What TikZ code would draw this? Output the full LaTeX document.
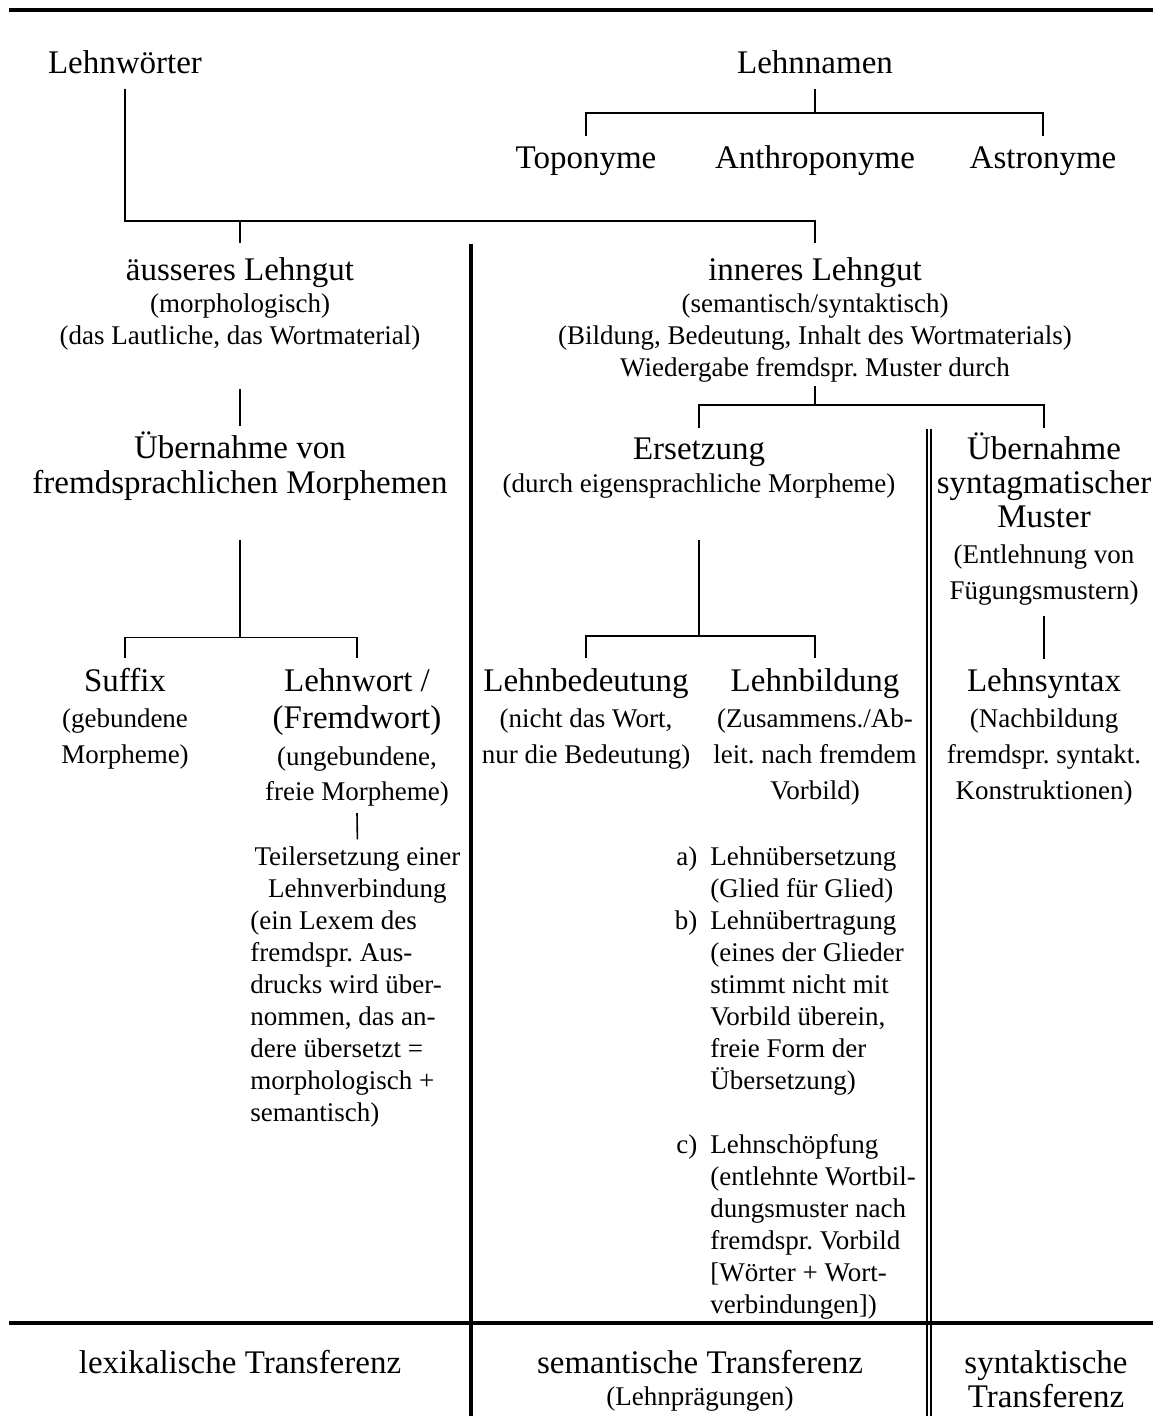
\documentclass[tikz,border=0pt]{standalone}
\usepackage{fontspec}
\setmainfont{Liberation Serif}
\frenchspacing
\newcommand\bigfont{\fontsize{16.5}{17}\selectfont}
\newcommand\smallfont{\fontsize{13.5}{16}\selectfont}
\newcommand\bigtxt[1]{{\bigfont#1}}

\begin{document}
\begin{tikzpicture}[x=0.5pt,y=-0.5pt,
    txt/.style={font=\smallfont, inner sep=0pt, anchor=base, align=center},
    headtxt/.style={txt, font=\bigfont},
    branch/.style={line width=0.8pt},
    divider/.style={line width=1.8pt},
    doubledivider/.style={line width=0.7pt, double, double distance=1.3pt}]
  \useasboundingbox (0,0) rectangle (1153,1416);

  \draw[divider] (9,10) -- (1153,10);
  \draw[divider] (471,244) -- (471,1416);
  \draw[doubledivider] (929,429) -- (929,1416);
  \draw[divider] (9,1323) -- (1153,1323);

  \node[headtxt] (lwoert) at (125,74) {Lehnwörter};
  \node[headtxt] (lnamen) at (815,74) {Lehnnamen};
  \node[headtxt] (topo) at (586,169) {Toponyme};
  \node[headtxt] (anthro) at (815,169) {Anthroponyme};
  \node[headtxt] (astro) at (1043,169) {Astronyme};

  \node[txt] (aeuss) at (240,345) {\bigtxt{äusseres Lehngut}\\(morphologisch)\\(das Lautliche, das Wortmaterial)};
  \node[txt] (inner) at (815,377) {\bigtxt{inneres Lehngut}\\(semantisch/syntaktisch)\\(Bildung, Bedeutung, Inhalt des Wortmaterials)\\Wiedergabe fremdspr. Muster durch};

  \node[txt] (uebvon) at (240,494) {\bigtxt{Übernahme von}\\[1.5pt]\bigtxt{fremdsprachlichen Morphemen}};
  \node[txt] (ersetz) at (699,493) {\bigtxt{Ersetzung}\\[1pt](durch eigensprachliche Morpheme)};
  \node[txt] (uebsyn) at (1044,599) {\bigtxt{Übernahme}\\[1pt]\bigtxt{syntagmatischer}\\[1pt]\bigtxt{Muster}\\[2pt](Entlehnung von\\[2pt]Fügungsmustern)};

  \node[txt] (suffix) at (125,763) {\bigtxt{Suffix}\\[2pt](gebundene\\[2pt]Morpheme)};
  \node[txt] (lwort) at (357,800) {\bigtxt{Lehnwort /}\\[2.5pt]\bigtxt{(Fremdwort)}\\[2.5pt](ungebundene,\\[1.5pt]freie Morpheme)};
  \node[txt] (lbed) at (586,763) {\bigtxt{Lehnbedeutung}\\[2pt](nicht das Wort,\\[2pt]nur die Bedeutung)};
  \node[txt] (lbild) at (815,799) {\bigtxt{Lehnbildung}\\[2pt](Zusammens./Ab-\\[2pt]leit. nach fremdem\\[2pt]Vorbild)};
  \node[txt] (lsyn) at (1044,799) {\bigtxt{Lehnsyntax}\\[2pt](Nachbildung\\[2pt]fremdspr. syntakt.\\[2pt]Konstruktionen)};

  \node[txt, align=left, anchor=base west] (teil) at (250,1121) {\makebox[107pt]{Teilersetzung einer}\\\makebox[107pt]{Lehnverbindung}\\(ein Lexem des\\fremdspr. Aus-\\drucks wird über-\\nommen, das an-\\dere übersetzt =\\morphologisch +\\semantisch)};
  \node[txt, align=left, anchor=base west] (lbliste) at (710,1313) {\llap{a)\hspace{6.5pt}}Lehnübersetzung\\(Glied für Glied)\\\llap{b)\hspace{6.5pt}}Lehnübertragung\\(eines der Glieder\\stimmt nicht mit\\Vorbild überein,\\freie Form der\\Übersetzung)\\[16pt]\llap{c)\hspace{6.5pt}}Lehnschöpfung\\(entlehnte Wortbil-\\dungsmuster nach\\fremdspr. Vorbild\\{[}Wörter + Wort-\\verbindungen{]})};

  \node[headtxt] (lexik) at (240,1373) {lexikalische Transferenz};
  \node[txt] (semant) at (700,1405) {\bigtxt{semantische Transferenz}\\(Lehnprägungen)};
  \node[txt] (syntr) at (1046,1407) {\bigtxt{syntaktische}\\[1pt]\bigtxt{Transferenz}};

  \draw[branch] (lnamen.south) ++(0,14) -- ++(0,24) coordinate (lnbar);
  \draw[branch] (topo |- lnbar) ++(0,23) -- (topo |- lnbar) -- (astro |- lnbar) -- ++(0,23);
  \draw[branch] (lwoert.south) ++(0,14) -- ++(0,132) coordinate (lwbar) -- (inner |- lwbar) -- ++(0,22);
  \draw[branch] (aeuss |- lwbar) -- ++(0,22);

  \draw[branch] ([yshift=-19pt]aeuss.south) -- ([yshift=2.7pt]uebvon.north);
  \draw[branch] ([yshift=-1.5pt]inner.south) -- ++(0,19) coordinate (inbar);
  \draw[branch] (ersetz |- inbar) ++(0,23) -- (ersetz |- inbar) -- (uebsyn |- inbar) -- ++(0,23);

  \draw[branch] ([yshift=-19.5pt]uebvon.south) -- ++(0,97) coordinate (uvbar);
  \draw[branch] (suffix |- uvbar) ++(0,21) -- (suffix |- uvbar) -- (lwort |- uvbar) -- ++(0,21);
  \draw[branch] ([yshift=-20.5pt]ersetz.south) -- ++(0,96) coordinate (erbar);
  \draw[branch] (lbed |- erbar) ++(0,22) -- (lbed |- erbar) -- (lbild |- erbar) -- ++(0,22);
  \draw[branch] ([yshift=-5.5pt]uebsyn.south) -- ([yshift=4.25pt]lsyn.north);
  \draw[branch] ([yshift=-3.5pt]lwort.south) -- ([yshift=3.3pt]teil.north);
\end{tikzpicture}
\end{document}
